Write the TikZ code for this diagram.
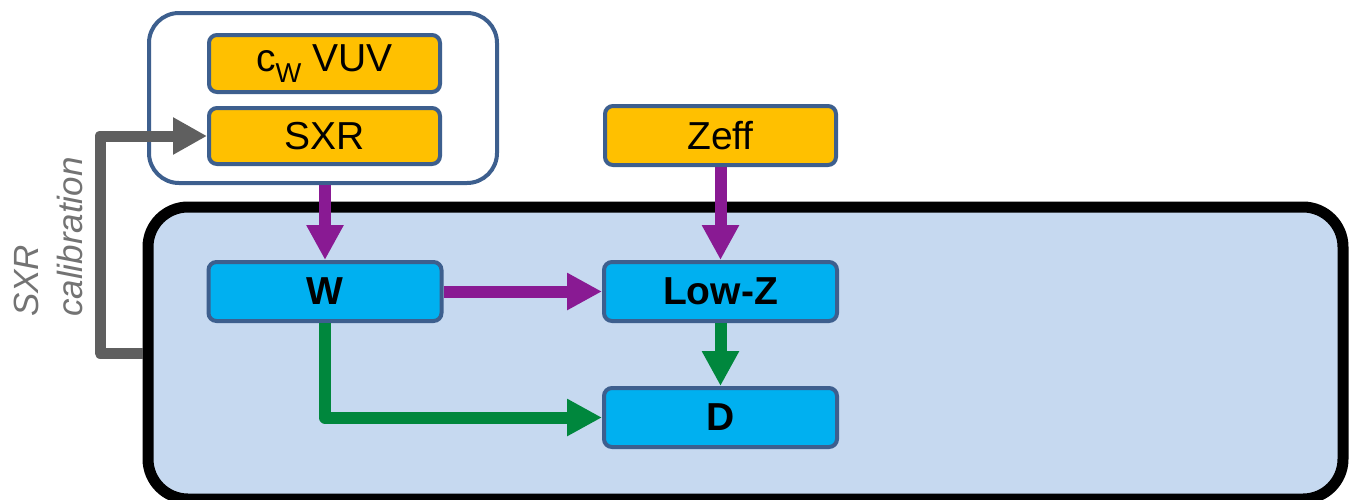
\documentclass[tikz,border=0pt]{standalone}
\usepackage{fontspec}
\setmainfont{Liberation Sans}
\usetikzlibrary{arrows.meta}
\definecolor{frameblue}{HTML}{3D5F8E}
\definecolor{orangefill}{HTML}{FFC000}
\definecolor{cyanfill}{HTML}{00B0F0}
\definecolor{mainfill}{HTML}{C6D9F0}
\definecolor{purp}{HTML}{891A93}
\definecolor{grn}{HTML}{00873D}
\definecolor{darkgr}{HTML}{5F5F5F}
\definecolor{labelgr}{HTML}{737373}
\tikzset{
  obox/.style={draw=frameblue, fill=orangefill, line width=4pt, rounded corners=8pt,
    minimum width=231pt, inner sep=0pt, font=\fontsize{39}{44}\selectfont},
  cbox/.style={draw=frameblue, fill=cyanfill, line width=4pt, rounded corners=8pt,
    minimum width=233pt, minimum height=59pt, inner sep=0pt, font=\fontsize{39}{44}\selectfont\bfseries},
  group/.style={draw=frameblue, fill=white, line width=4pt, rounded corners=30pt,
    minimum width=348pt, minimum height=170pt, inner sep=0pt},
  mainbox/.style={draw=black, fill=mainfill, line width=11pt, rounded corners=40pt,
    minimum width=1195pt, minimum height=292pt, inner sep=0pt},
  conn/.style={line width=12pt, line join=round, -{Triangle[length=35pt,width=35pt]}},
  parrow/.style={conn, draw=purp},
  garrow/.style={conn, draw=grn},
  darrow/.style={line width=11pt, line join=round, draw=darkgr, -{Triangle[length=34pt,width=35pt]}},
  lbl/.style={rotate=90, anchor=base west, inner sep=0pt, text=labelgr, font=\fontsize{35}{40}\selectfont\itshape}
}
\begin{document}
\begin{tikzpicture}[x=1pt,y=-1pt]
\useasboundingbox (0,0) rectangle (1349,499);
\begin{scope}
\clip (0,0) rectangle (1349,499);
\node[mainbox] (main) at (745.5,353) {};
\end{scope}
\node[group] (grp) at (323,98) {};
\node[obox, minimum height=57pt] (vuv) at (324.5,63.5) {c\textsubscript{W} VUV};
\node[obox, minimum height=56pt] (sxr) at (324.5,136) {SXR};
\node[obox, minimum height=59pt] (zeff) at (720.5,135.5) {Zeff};
\node[cbox] (w) at (325,291.5) {W};
\node[cbox] (lowz) at (720.5,291.5) {Low-Z};
\node[cbox] (d) at (720.5,417.5) {D};
\node[lbl] (l1) at (38,317) {SXR};
\node[lbl] (l2) at (82,317) {calibration};
\coordinate (gc) at (100,353);
\draw[parrow] (grp.south -| w.north) -- (w.north);
\draw[parrow] (zeff.south) -- (lowz.north);
\draw[parrow] (w.east) -- (lowz.west);
\draw[garrow] (lowz.south) -- (d.north);
\draw[garrow] (w.south) |- (d.west);
\draw[darrow] (main.west |- gc) -- (gc) |- (sxr.west);
\end{tikzpicture}
\end{document}
